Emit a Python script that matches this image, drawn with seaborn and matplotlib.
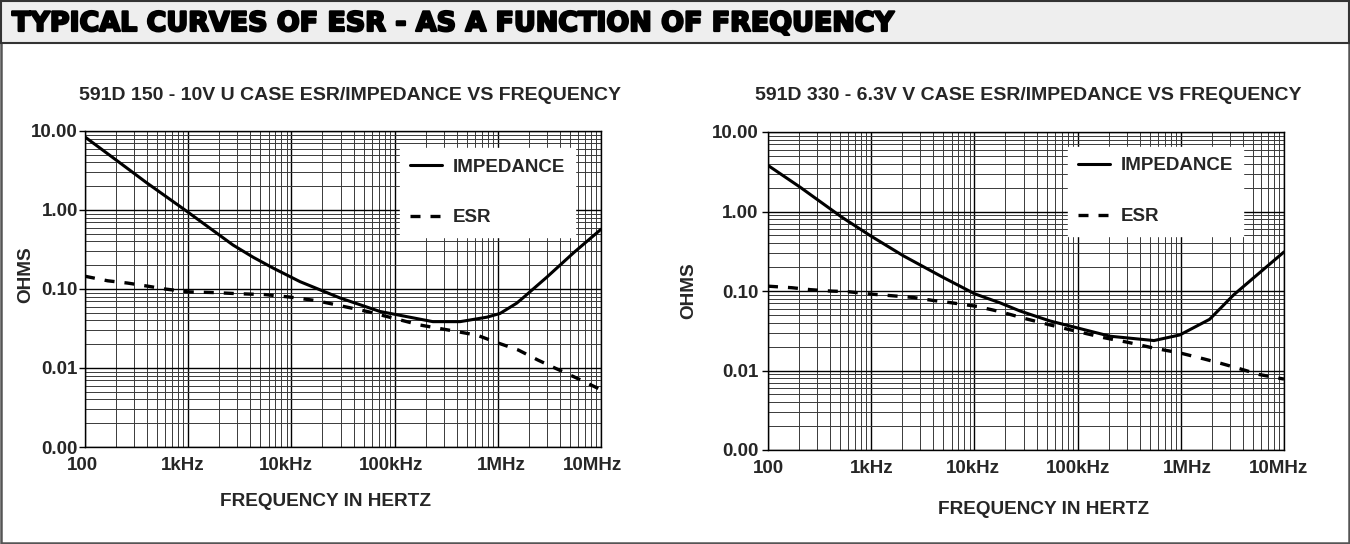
import numpy as np
import pandas as pd
import matplotlib
matplotlib.use("Agg")
import matplotlib.pyplot as plt
import seaborn as sns
from matplotlib.ticker import LogLocator, FixedLocator, NullFormatter
from matplotlib import patches, patheffects
from matplotlib import font_manager as fm
from matplotlib.textpath import TextPath
from matplotlib.transforms import ScaledTranslation

# ---------------- data ----------------
banner_title = "TYPICAL CURVES OF ESR - AS A FUNCTION OF FREQUENCY"
left_title = "591D 150 - 10V U CASE ESR/IMPEDANCE VS FREQUENCY"
right_title = "591D 330 - 6.3V V CASE ESR/IMPEDANCE VS FREQUENCY"

x_tick_values = [1e2, 1e3, 1e4, 1e5, 1e6, 1e7]
x_tick_labels = ["100", "1kHz", "10kHz", "100kHz", "1MHz", "10MHz"]
y_tick_values = [1e-3, 1e-2, 1e-1, 1e0, 1e1]
y_tick_labels = ["0.00", "0.01", "0.10", "1.00", "10.00"]

# left chart: 591D 150 - 10V U case
left_imp_freq = [100, 200, 398, 931, 2720, 4270, 6600, 12100, 29600, 72000, 235000,
                 430000, 785000, 1050000, 1520000, 1750000, 3000000, 5400000, 10000000]
left_imp_ohms = [8.4, 4.3, 2.2, 1.0, 0.36, 0.252, 0.185, 0.124, 0.077, 0.052, 0.0386,
                 0.0386, 0.044, 0.049, 0.066, 0.077, 0.142, 0.286, 0.57]
left_esr_freq = [100, 166, 257, 398, 596, 995, 1820, 3160, 5550, 9680, 17700, 54100,
                 176000, 344000, 631000, 977000, 1580000, 2450000, 3630000, 5890000,
                 10000000]
left_esr_ohms = [0.145, 0.127, 0.119, 0.109, 0.100, 0.092, 0.090, 0.087, 0.085, 0.079,
                 0.071, 0.052, 0.035, 0.030, 0.026, 0.021, 0.0169, 0.0126, 0.0099,
                 0.0074, 0.0053]

# right chart: 591D 330 - 6.3V V case
right_imp_freq = [100, 204, 518, 972, 2050, 4990, 10100, 17700, 27700, 54000, 206000,
                  550000, 977000, 1900000, 3240000, 5500000, 10000000]
right_imp_ohms = [3.8, 2.03, 0.85, 0.50, 0.277, 0.148, 0.092, 0.071, 0.056, 0.042,
                  0.027, 0.0238, 0.028, 0.044, 0.089, 0.16, 0.31]
right_esr_freq = [100, 170, 257, 398, 596, 1040, 1620, 2540, 3980, 6050, 10600, 17700,
                  31000, 51600, 80700, 176000, 308000, 562000, 986000, 1670000, 2440000,
                  3750000, 5750000, 10000000]
right_esr_ohms = [0.115, 0.11, 0.104, 0.100, 0.098, 0.091, 0.087, 0.083, 0.076, 0.071,
                  0.064, 0.055, 0.045, 0.038, 0.033, 0.026, 0.0226, 0.019, 0.0166,
                  0.014, 0.0123, 0.0105, 0.0089, 0.0078]

# ---------------- styling ----------------
sns.set_style("white")
plt.rcParams["font.family"] = ["Liberation Sans", "DejaVu Sans"]

W, H = 1350, 544
DPI = 100
fig = plt.figure(figsize=(W / DPI, H / DPI), dpi=DPI)

# outer frame and banner
fig.patches.append(patches.Rectangle((0.001, 0.002), 0.998, 0.996, transform=fig.transFigure,
                                     fill=False, edgecolor="#555555", linewidth=1.8, zorder=0))
fig.patches.append(patches.Rectangle((0.001, 1 - 43 / H), 0.998, 43 / H - 0.002,
                                     transform=fig.transFigure, facecolor="#eeeeee",
                                     edgecolor="#333333", linewidth=1.5, zorder=1))

# heavy, wide banner lettering (Arial Black-like): DejaVu Sans Bold thickened by a stroke
banner_fp = fm.FontProperties(family="DejaVu Sans", weight="bold")
part = banner_title[: banner_title.rindex(" FREQUENCY")]
unit_w = TextPath((0, 0), part, size=1, prop=banner_fp).get_extents().width
banner_size = (700 - 12) / (unit_w * DPI / 72)
banner_fp.set_size(banner_size)
fig.text(12 / W, 1 - 31 / H, banner_title, fontproperties=banner_fp, va="baseline",
         ha="left", color="black",
         path_effects=[patheffects.withStroke(linewidth=1.6, foreground="black")])

TICK_FS = 13.5
LABEL_FS = 13.7


def draw(ax, imp_f, imp_v, esr_f, esr_v, title, title_xy, leg_xy, ylab_xy, xlab_xy,
         ytick_pad, xlab_offsets):
    sns.lineplot(x=imp_f, y=imp_v, ax=ax, color="black", linewidth=2.2,
                 label="IMPEDANCE", sort=True)
    sns.lineplot(x=esr_f, y=esr_v, ax=ax, color="black", linewidth=2.4,
                 label="ESR", sort=True)
    imp_line, esr_line = ax.lines[0], ax.lines[1]
    esr_line.set_linestyle((0, (3, 3)))
    for ln in (imp_line, esr_line):
        ln.set_zorder(3)
        ln.set_solid_joinstyle("round")

    ax.set_xscale("log")
    ax.set_yscale("log")
    ax.set_xlim(1e2, 1e7)
    ax.set_ylim(1e-3, 1e1)

    ax.xaxis.set_major_locator(FixedLocator(x_tick_values))
    ax.set_xticklabels(x_tick_labels, fontweight="bold", fontsize=TICK_FS)
    ax.yaxis.set_major_locator(FixedLocator(y_tick_values))
    ax.set_yticklabels(y_tick_labels, fontweight="bold", fontsize=TICK_FS)
    for axis in (ax.xaxis, ax.yaxis):
        axis.set_minor_locator(LogLocator(base=10, subs=np.arange(2, 10), numticks=100))
        axis.set_minor_formatter(NullFormatter())

    ax.tick_params(axis="x", which="major", length=0, pad=7, bottom=True)
    ax.tick_params(axis="y", which="major", length=4, width=1.0, color="black",
                   pad=ytick_pad, left=True, direction="out")
    ax.tick_params(which="minor", length=0)

    # small horizontal nudges of the x tick labels, as placed in the reference
    for lab, dx in zip(ax.get_xticklabels(), xlab_offsets):
        lab.set_transform(lab.get_transform() + ScaledTranslation(dx / DPI, 0, fig.dpi_scale_trans))

    ax.grid(True, which="major", color="black", linewidth=1.0)
    ax.grid(True, which="minor", color="#3a3a3a", linewidth=0.7)
    ax.set_axisbelow(True)
    for s in ax.spines.values():
        s.set_visible(True)
        s.set_color("black")
        s.set_linewidth(1.0)

    ax.set_ylabel("OHMS", fontsize=LABEL_FS, fontweight="bold")
    ax.yaxis.set_label_coords(*ylab_xy)
    ax.set_xlabel("FREQUENCY IN HERTZ", fontsize=LABEL_FS, fontweight="bold")
    ax.xaxis.set_label_coords(*xlab_xy)

    leg = ax.legend(handles=[imp_line, esr_line], labels=["IMPEDANCE", "ESR"],
                    loc="upper left", bbox_to_anchor=leg_xy, borderaxespad=0,
                    frameon=True, fancybox=False, facecolor="white", edgecolor="white",
                    framealpha=1, prop={"weight": "bold", "size": 13.5},
                    handlelength=1.7, handletextpad=0.55, labelspacing=1.8,
                    borderpad=0.55)
    leg.set_zorder(5)

    fig.text(title_xy[0], title_xy[1], title, fontsize=14, fontweight="bold",
             ha="center", va="center")


axL = fig.add_axes([85 / W, (H - 447) / H, 516 / W, 316 / H])
axR = fig.add_axes([768 / W, (H - 450) / H, 516 / W, 318 / H])

draw(axL, left_imp_freq, left_imp_ohms, left_esr_freq, left_esr_ohms, left_title,
     (350 / W, 1 - 96 / H), (0.6105, 0.946), (-0.099, 0.547), (0.467, -0.147),
     1.0, [-3, -6, -6, -4, 4, -9])
draw(axR, right_imp_freq, right_imp_ohms, right_esr_freq, right_esr_ohms, right_title,
     (1028 / W, 1 - 96 / H), (0.581, 0.953), (-0.138, 0.50), (0.533, -0.159),
     3.0, [0, 0, -2, 0, 7, -5])

fig.savefig("out.png", dpi=DPI)
